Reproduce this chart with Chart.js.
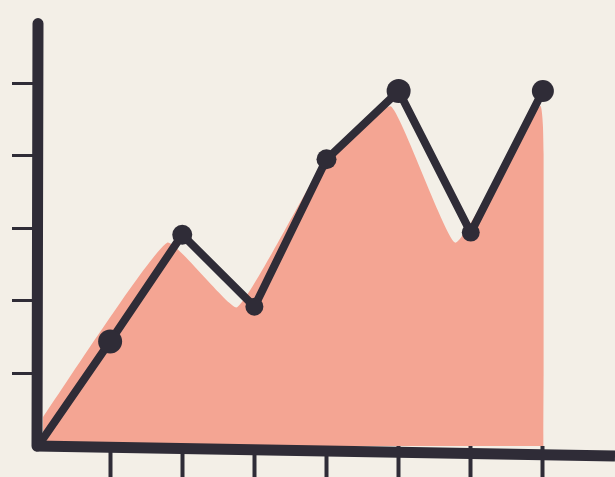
<!DOCTYPE html>
<html>
<head>
<meta charset="utf-8">
<script src="https://cdn.jsdelivr.net/npm/chart.js@4.4.1/dist/chart.umd.min.js"></script>
<style>
  html, body { margin: 0; padding: 0; background: #f3efe7; }
  #wrap { width: 615px; height: 477px; }
</style>
</head>
<body>
<div id="wrap"><canvas id="chart"></canvas></div>
<script>
// line series (x = category index, y = value)
const lineX = [0, 1, 2, 3, 4, 5, 6, 7];
const lineY = [0, 1.44, 2.91, 1.92, 3.95, 4.89, 2.94, 4.89];
const dotSize = [0, 12, 10, 9, 10, 12, 9, 11];

// the salmon wash under the line, painted a bit off-register
const fillX = [0.07, 1.79, 2.76, 3.89, 4.89, 5.79, 6.97, 7.01];
const fillY = [0.40, 2.80, 1.91, 3.78, 4.68, 2.80, 4.68, 0.08];

const xTicks = [1, 2, 3, 4, 5, 6, 7];
const yTicks = [1, 2, 3, 4, 5];

const ink = '#2f2c37';
const salmon = '#f4a593';

// thick hand drawn axes, drawn on top of the datasets
const axesPlugin = {
  id: 'axes',
  afterDatasetsDraw(chart) {
    const { ctx, scales: { x, y } } = chart;
    const x0 = x.getPixelForValue(0);
    const y0 = y.getPixelForValue(0);
    ctx.save();
    ctx.strokeStyle = ink;
    ctx.lineCap = 'round';
    ctx.lineWidth = 11;
    ctx.beginPath();
    ctx.moveTo(x0, y.getPixelForValue(5.82));
    ctx.lineTo(x0 - 1, y0);
    ctx.stroke();
    ctx.lineCap = 'butt';
    ctx.beginPath();
    ctx.moveTo(x0 - 2, y0);
    ctx.lineTo(x.getPixelForValue(8), y0 + 10);
    ctx.stroke();
    ctx.restore();
  }
};

const noPad = s => { s.paddingLeft = 0; s.paddingRight = 0; s.paddingTop = 0; s.paddingBottom = 0; };

new Chart(document.getElementById('chart'), {
  type: 'line',
  data: {
    datasets: [
      {
        data: fillX.map((v, i) => ({ x: v, y: fillY[i] })),
        backgroundColor: salmon,
        borderWidth: 0,
        pointRadius: 0,
        tension: 0.12,
        fill: 'origin',
        order: 2
      },
      {
        data: lineX.map((v, i) => ({ x: v, y: lineY[i] })),
        borderColor: ink,
        borderWidth: 8,
        borderJoinStyle: 'round',
        backgroundColor: ink,
        pointBackgroundColor: ink,
        pointBorderWidth: 0,
        pointRadius: dotSize,
        tension: 0,
        fill: false,
        order: 1
      }
    ]
  },
  options: {
    responsive: true,
    maintainAspectRatio: false,
    animation: false,
    layout: { autoPadding: false, padding: { top: 25, left: 0, right: 0, bottom: 0 } },
    plugins: { legend: { display: false }, tooltip: { enabled: false } },
    scales: {
      x: {
        type: 'linear',
        min: 0,
        max: 8,
        afterBuildTicks: s => { s.ticks = xTicks.map(v => ({ value: v })); },
        afterFit: s => { s.height = 31; noPad(s); },
        ticks: { display: false },
        border: { display: false },
        grid: { drawOnChartArea: false, drawTicks: true, tickLength: 31, tickWidth: 4, tickColor: ink }
      },
      y: {
        min: 0,
        max: 5.8,
        afterBuildTicks: s => { s.ticks = yTicks.map(v => ({ value: v })); },
        afterFit: s => { s.width = 38; noPad(s); },
        ticks: { display: false },
        border: { display: false },
        grid: { drawOnChartArea: false, drawTicks: true, tickLength: 26, tickWidth: 3, tickColor: ink }
      }
    }
  },
  plugins: [axesPlugin]
});
</script>
</body>
</html>
